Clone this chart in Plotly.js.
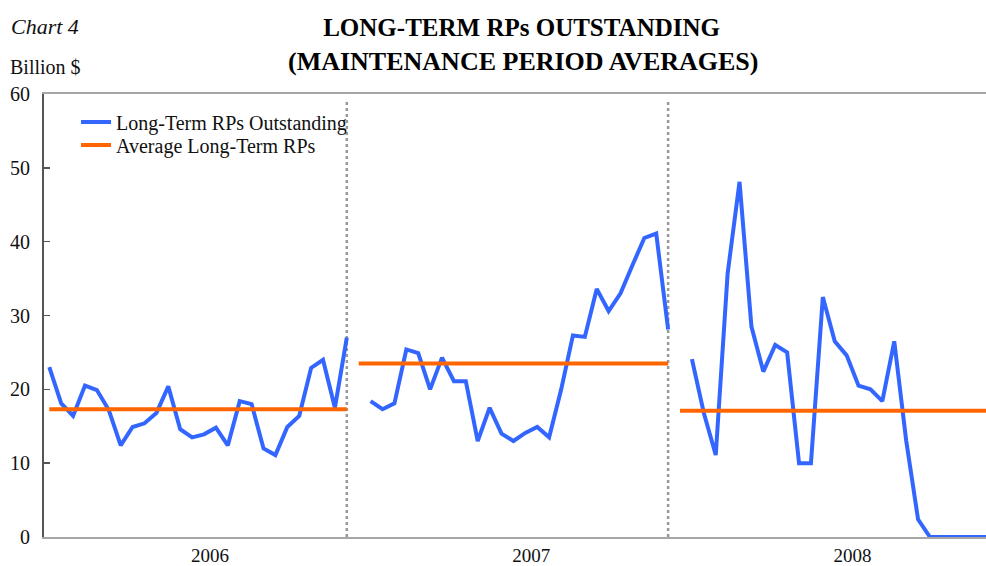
<!DOCTYPE html>
<html>
<head>
<meta charset="utf-8">
<script src="https://cdn.plot.ly/plotly-3.0.1.min.js"></script>
<style>html,body{margin:0;padding:0;background:#fff;}#chart{width:986px;height:566px;}</style>
</head>
<body>
<div id="chart"></div>
<script>
// Data (billion $, maintenance period averages)
var years = ["2006", "2007", "2008"];
var rp2006 = [23.0, 18.1, 16.4, 20.5, 19.9, 17.2, 12.4, 14.9, 15.4, 16.8, 20.4, 14.6, 13.5,
              13.9, 14.8, 12.4, 18.4, 18.0, 12.0, 11.1, 14.9, 16.4, 22.9, 24.0, 17.5, 27.0];
var rp2007 = [18.4, 17.3, 18.1, 25.4, 24.9, 20.0, 24.3, 21.1, 21.1, 13.0, 17.5, 14.0, 13.0,
              14.1, 14.9, 13.5, 19.9, 27.3, 27.1, 33.6, 30.6, 33.0, 36.8, 40.5, 41.1, 28.1];
var rp2008 = [24.1, 16.8, 11.1, 35.7, 48.1, 28.5, 22.4, 26.0, 25.0, 10.0, 10.0, 32.5, 26.5,
              24.6, 20.5, 20.0, 18.4, 26.5, 13.1, 2.4, 0, 0, 0, 0, 0, 0];
var yearAverages = [17.3, 23.5, 17.1];
var yTicks = [0, 10, 20, 30, 40, 50, 60];

// Build a continuous period index with one blank period between years
var seriesByYear = [rp2006, rp2007, rp2008];
var bx = [], by = [], ax = [], ay = [], yearStart = [], yearEnd = [], dividers = [];
var idx = 0;
seriesByYear.forEach(function (vals, i) {
  var segStart = idx;
  if (i > 0) { bx.push(idx); by.push(null); idx++; }
  yearStart.push(idx);
  vals.forEach(function (v) { bx.push(idx); by.push(v); idx++; });
  yearEnd.push(idx - 1);
  ax.push(segStart, idx - 1, null);
  ay.push(yearAverages[i], yearAverages[i], null);
  if (i < seriesByYear.length - 1) dividers.push(idx - 1);
});
var tickPos = yearStart.map(function (s, i) { return s + (yearEnd[i] - s) / 2 + 1; });

var serif = "Liberation Serif";

var traces = [
  { x: bx, y: by, type: "scatter", mode: "lines", name: "Long-Term RPs Outstanding",
    connectgaps: false, line: { color: "#3366FF", width: 4 }, legend: "legend" },
  { x: ax, y: ay, type: "scatter", mode: "lines", name: "Average Long-Term RPs",
    connectgaps: false, line: { color: "#FF6600", width: 4 }, legend: "legend2" }
];

var shapes = dividers.map(function (d) {
  return { type: "line", xref: "x", yref: "paper", x0: d, x1: d, y0: 0, y1: 0.985,
           line: { color: "#999999", width: 2.5, dash: "dot" }, layer: "below" };
});

var legFont = { family: serif, size: 20, color: "#111" };
var layout = {
  width: 986, height: 566,
  margin: { l: 44, r: 0, t: 94, b: 29 },
  paper_bgcolor: "#ffffff", plot_bgcolor: "#ffffff",
  font: { family: serif, color: "#111" },
  showlegend: true,
  legend: { x: 0.034, y: 1 - (122 - 94) / 443, xanchor: "left", yanchor: "middle",
            bgcolor: "rgba(0,0,0,0)", font: legFont },
  legend2: { x: 0.034, y: 1 - (145 - 94) / 443, xanchor: "left", yanchor: "middle",
             bgcolor: "rgba(0,0,0,0)", font: legFont },
  title: { text: "<b>LONG-TERM RPs OUTSTANDING</b>", xref: "container", yref: "container",
           x: 0.529, xanchor: "center", y: 1 - 27 / 566, yanchor: "middle",
           font: { family: serif, size: 25, color: "#000" } },
  annotations: [
    { text: "<b>(MAINTENANCE PERIOD AVERAGES)</b>", xref: "paper", yref: "paper",
      x: 0.508, y: 1.0 + (94 - 62) / 443, xanchor: "center", yanchor: "middle", showarrow: false,
      font: { family: serif, size: 26, color: "#000" } },
    { text: "<i>Chart 4</i>", xref: "paper", yref: "paper", x: -35 / 942, xanchor: "left",
      y: 1.0 + (94 - 26) / 443, yanchor: "middle", showarrow: false,
      font: { family: serif, size: 22, color: "#111" } },
    { text: "Billion $", xref: "paper", yref: "paper", x: -36 / 942, xanchor: "left",
      y: 1.0 + (94 - 67) / 443, yanchor: "middle", showarrow: false,
      font: { family: serif, size: 20, color: "#111" } }
  ],
  xaxis: { range: [-0.445, 78.71], showgrid: false, zeroline: false, showline: true,
           linecolor: "#a6a6a6", linewidth: 2, mirror: true, ticks: "",
           tickmode: "array", tickvals: tickPos, ticktext: years,
           tickfont: { family: serif, size: 19, color: "#111" } },
  yaxis: { range: [0, 60], tickmode: "array", tickvals: yTicks, showgrid: false, zeroline: false,
           showline: true, linecolor: "#555555", linewidth: 2, ticks: "inside", ticklen: 6,
           tickcolor: "#555555", tickwidth: 1.5, ticklabelstandoff: 8,
           tickfont: { family: serif, size: 20, color: "#111" } },
  shapes: shapes
};

Plotly.newPlot("chart", traces, layout, { displayModeBar: false, staticPlot: true });
</script>
</body>
</html>
